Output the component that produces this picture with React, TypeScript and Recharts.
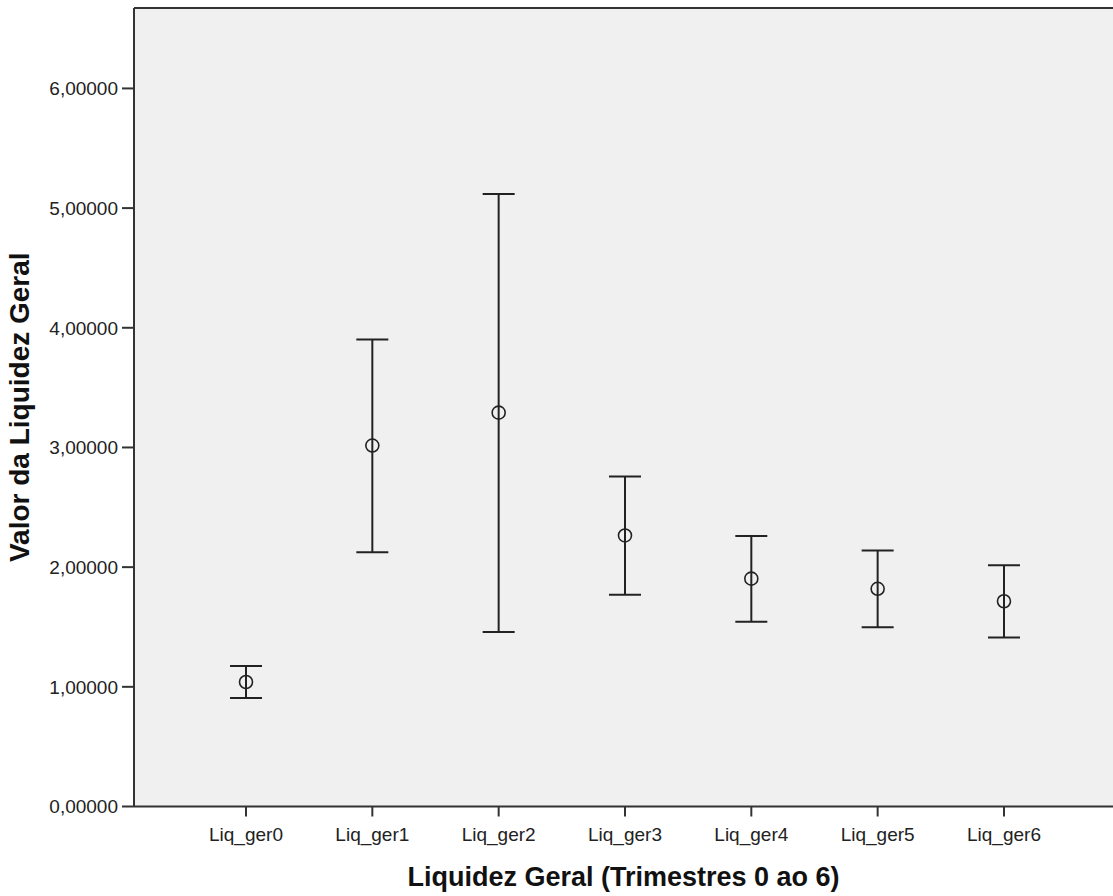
import React from "react";
import { ScatterChart, Scatter, XAxis, YAxis, CartesianGrid, ErrorBar, ReferenceLine } from "recharts";

const categories = ["Liq_ger0", "Liq_ger1", "Liq_ger2", "Liq_ger3", "Liq_ger4", "Liq_ger5", "Liq_ger6"];
const means = [1.04, 3.016, 3.291, 2.265, 1.904, 1.819, 1.715];
const upper = [1.174, 3.902, 5.118, 2.758, 2.261, 2.139, 2.016];
const lower = [0.907, 2.124, 1.459, 1.769, 1.544, 1.498, 1.413];
const yTicks = [0, 1, 2, 3, 4, 5, 6];
const yMax = 6.672;

const font = "Arial, 'Liberation Sans', sans-serif";
const ink = "#222";
const axisLine = { stroke: "#333", strokeWidth: 2 };

const data = categories.map((name, i) => ({
  idx: i,
  name,
  mean: means[i],
  err: [means[i] - lower[i], upper[i] - means[i]],
}));

const fmtY = (v: number) => v.toFixed(5).replace(".", ",");

function OpenCircle(props: any) {
  const { cx, cy } = props;
  if (cx == null || cy == null) return null;
  return <circle cx={cx} cy={cy} r={6.5} fill="none" stroke={ink} strokeWidth={1.6} />;
}

function YTitle(props: any) {
  const vb = props.viewBox || { y: 8, height: 798 };
  const cy = vb.y + vb.height / 2;
  return (
    <text x={29} y={cy} transform={`rotate(-90, 29, ${cy})`} textAnchor="middle"
      fontFamily={font} fontWeight="bold" fontSize={28} fill="#111">
      Valor da Liquidez Geral
    </text>
  );
}

function XTitle(props: any) {
  const vb = props.viewBox || { x: 134, width: 979 };
  const cx = vb.x + vb.width / 2;
  return (
    <text x={cx} y={886} textAnchor="middle" fontFamily={font} fontWeight="bold" fontSize={27} fill="#111">
      Liquidez Geral (Trimestres 0 ao 6)
    </text>
  );
}

export default function App() {
  return (
    <div style={{ position: "absolute", left: 0, top: 0, background: "#fff" }}>
      <ScatterChart width={1113} height={896} margin={{ top: 8, right: 0, bottom: 0, left: 0 }}>
        <CartesianGrid horizontal={false} vertical={false} fill="#f0f0f0" />
        <XAxis
          type="number"
          dataKey="idx"
          domain={[-0.8866, 6.863]}
          allowDataOverflow
          ticks={categories.map((_, i) => i)}
          tickFormatter={(v: number) => categories[v]}
          interval={0}
          height={89.5}
          tickSize={10}
          tickMargin={11}
          tickLine={{ stroke: "#333", strokeWidth: 2 }}
          axisLine={axisLine}
          tick={{ fontSize: 19, fontFamily: font, fill: ink }}
          label={XTitle}
        />
        <YAxis
          type="number"
          dataKey="mean"
          domain={[0, yMax]}
          allowDataOverflow
          ticks={yTicks}
          tickFormatter={fmtY}
          width={134}
          tickSize={12}
          tickMargin={4}
          tickLine={{ stroke: "#333", strokeWidth: 2 }}
          axisLine={axisLine}
          tick={{ fontSize: 19, fontFamily: font, fill: ink }}
          label={YTitle}
        />
        <ReferenceLine y={yMax} stroke="#333" strokeWidth={2} ifOverflow="visible" />
        <Scatter data={data} dataKey="mean" shape={OpenCircle} isAnimationActive={false}>
          <ErrorBar dataKey="err" direction="y" width={16} stroke={ink} strokeWidth={2} isAnimationActive={false} />
        </Scatter>
      </ScatterChart>
    </div>
  );
}
